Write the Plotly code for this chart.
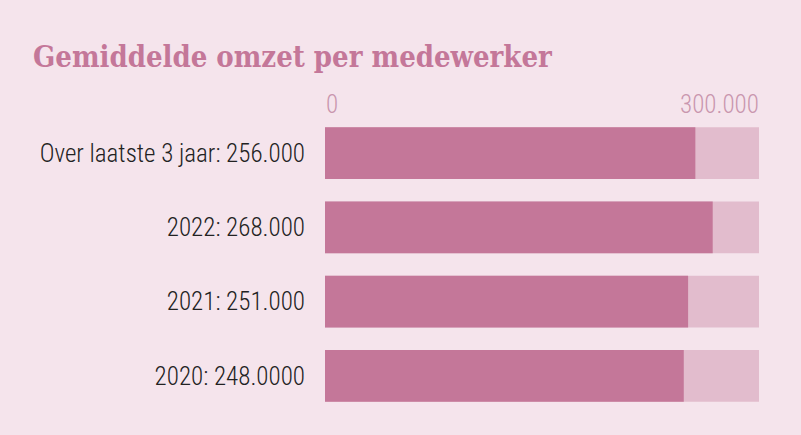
import plotly.graph_objects as go

categories = ["Over laatste 3 jaar: 256.000", "2022: 268.000", "2021: 251.000", "2020: 248.0000"]
values = [256000, 268000, 251000, 248000]
max_value = 300000
tick_labels = ["0", "300.000"]

bg = "#f5e4ec"
dark = "#c47799"
light = "#e2bccd"
label_font = "Roboto Condensed, Liberation Sans Narrow, DejaVu Sans Condensed, sans-serif"

ypos = list(range(len(categories)))

fig = go.Figure()
fig.add_trace(go.Bar(
    y=ypos, x=[max_value] * len(values), orientation="h",
    marker=dict(color=light, line=dict(width=0)), width=0.7,
    hoverinfo="skip", showlegend=False,
))
fig.add_trace(go.Bar(
    y=ypos, x=values, orientation="h",
    marker=dict(color=dark, line=dict(width=0)), width=0.7,
    showlegend=False,
))

fig.add_annotation(x=0, y=1, xref="x", yref="paper", text=tick_labels[0],
                   xanchor="left", yanchor="bottom", showarrow=False, yshift=-5, xshift=-1,
                   font=dict(family=label_font, size=25, color="#c996ae", weight=300))
fig.add_annotation(x=max_value, y=1, xref="x", yref="paper", text=tick_labels[1],
                   xanchor="right", yanchor="bottom", showarrow=False, yshift=-5, xshift=2,
                   font=dict(family=label_font, size=25, color="#c996ae", weight=300))

fig.update_layout(
    width=801, height=435,
    paper_bgcolor=bg, plot_bgcolor=bg,
    margin=dict(l=325, r=42, t=116, b=22),
    barmode="overlay",
    title=dict(text="<b>Gemiddelde omzet per medewerker</b>", x=33 / 801, xanchor="left",
               y=1 - 57 / 435, yanchor="middle",
               font=dict(family="DejaVu Serif Condensed, DejaVu Serif, serif", size=29, color="#c47799")),
    xaxis=dict(range=[0, max_value], showgrid=False, zeroline=False, showticklabels=False,
               fixedrange=True),
    yaxis=dict(tickvals=ypos, ticktext=categories, range=[3.5, -0.5], showgrid=False,
               zeroline=False, ticks="", ticklabelstandoff=19,
               tickfont=dict(family=label_font, size=25, color="#222222", weight=300)),
)

fig.write_html("out.html")
